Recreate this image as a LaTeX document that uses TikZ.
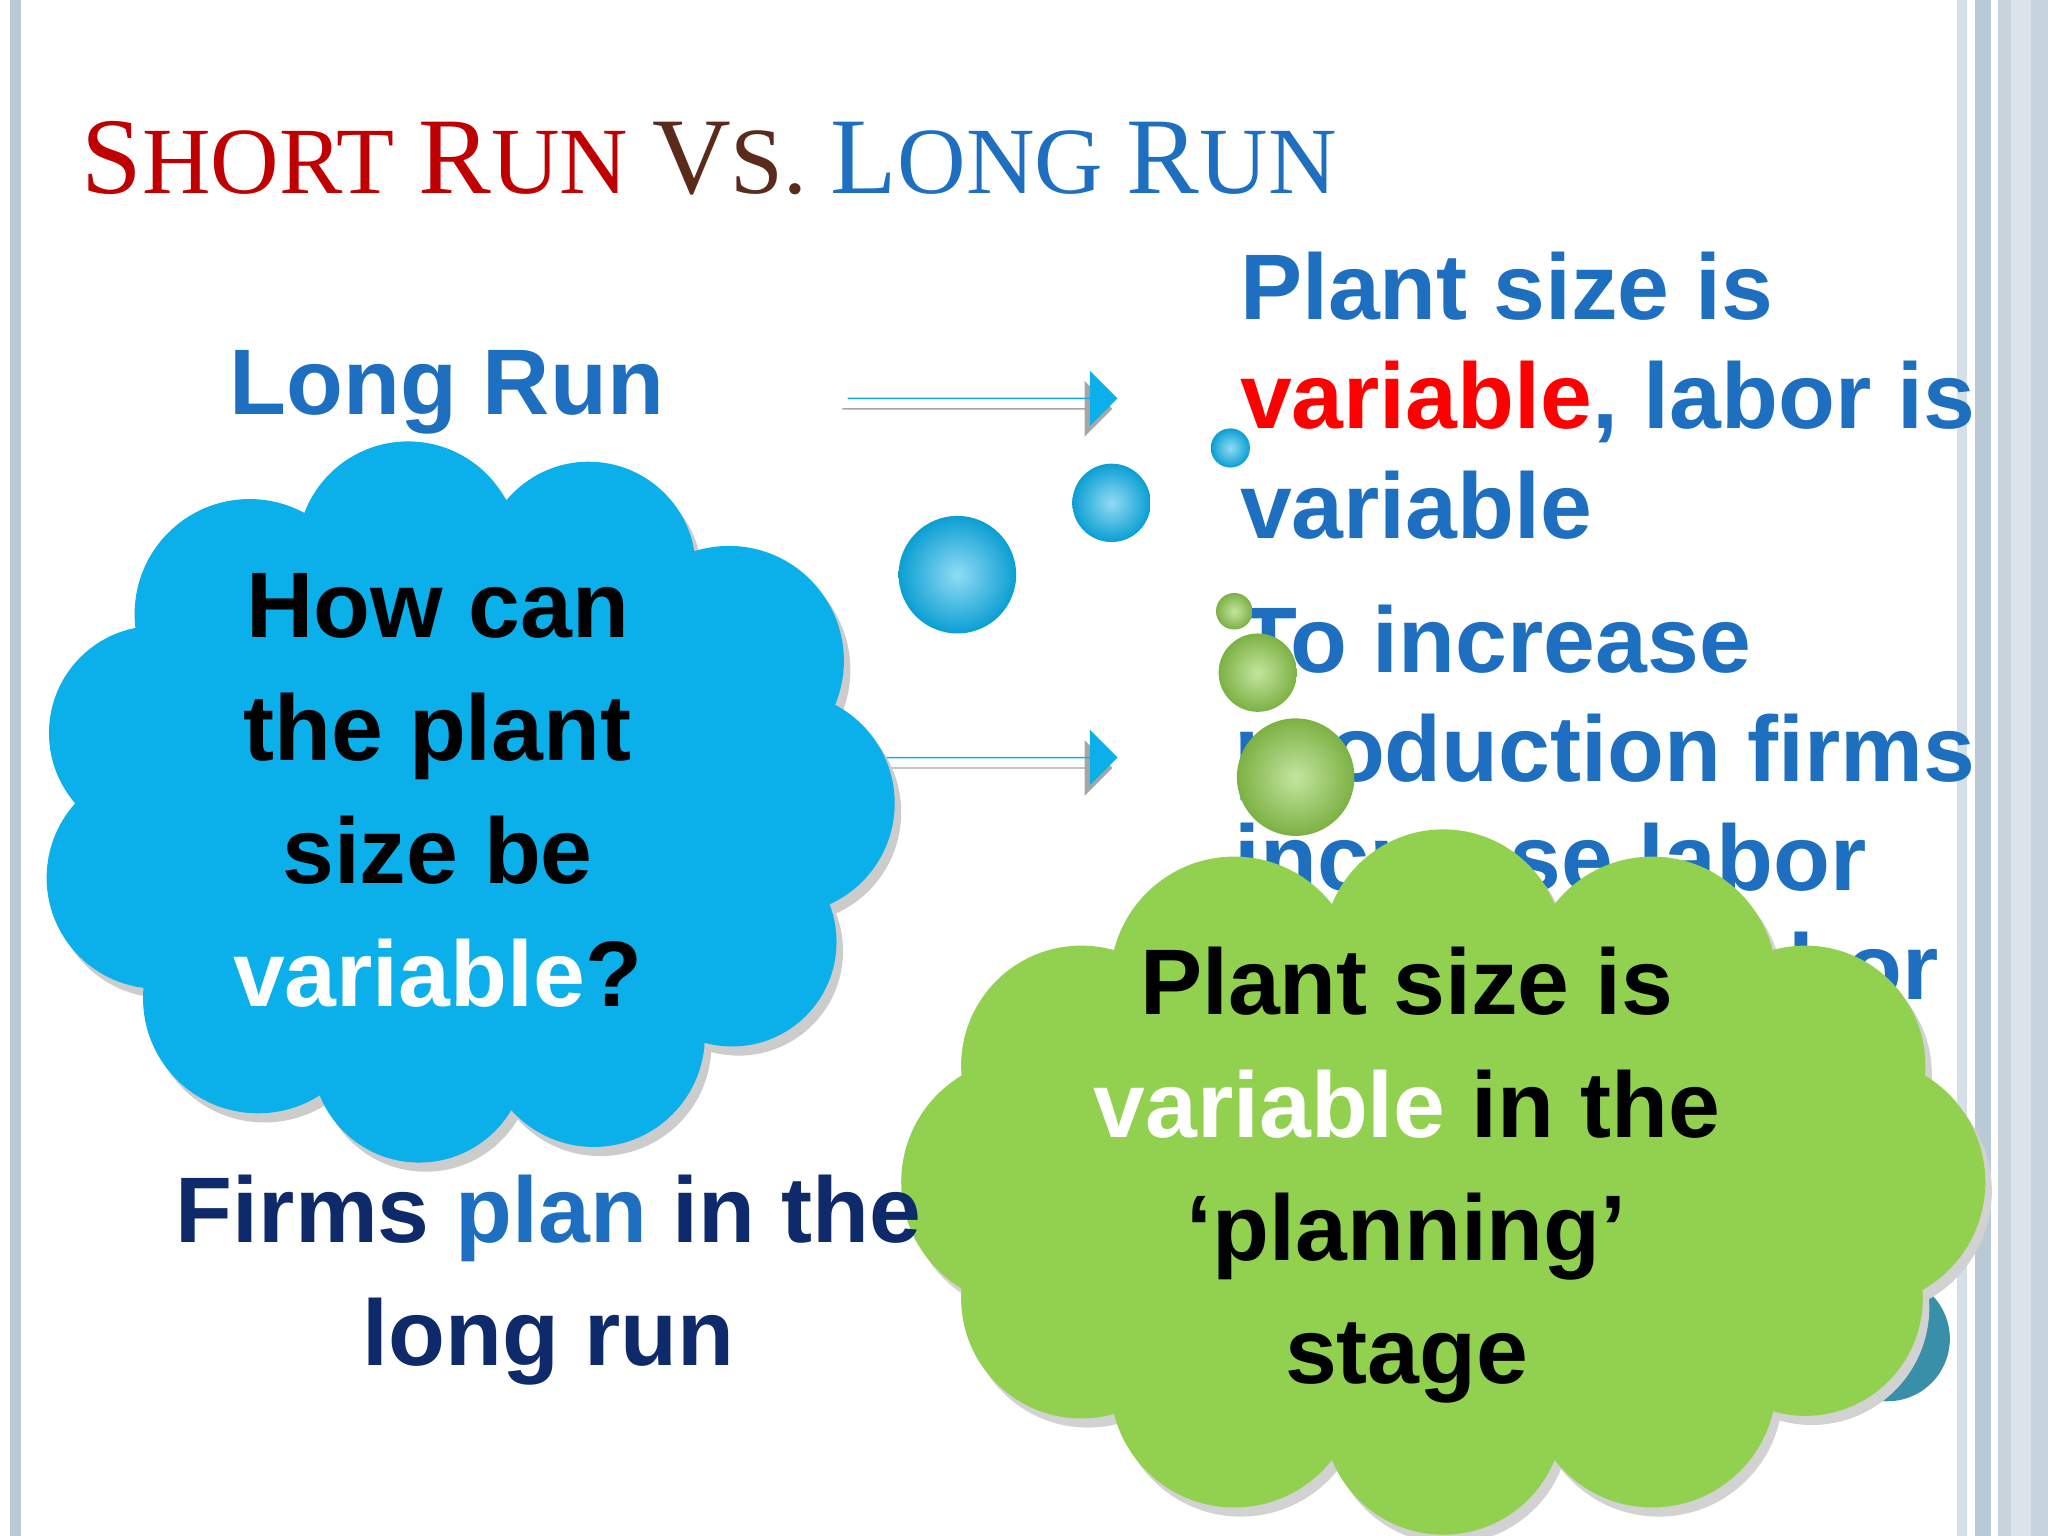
\documentclass[tikz,border=0pt]{standalone}
\usepackage{fontspec}
\setmainfont{Liberation Sans}
\newfontfamily\serif{Liberation Serif}
\usetikzlibrary{shapes.arrows,calc}
\definecolor{tblue}{HTML}{1F6FC0}
\definecolor{tred}{HTML}{C00000}
\definecolor{tbrown}{HTML}{5A2A1A}
\definecolor{cblue}{HTML}{0BB0EA}
\definecolor{cgreen}{HTML}{92D050}
\definecolor{navy}{HTML}{0F2A6A}
\definecolor{teal}{HTML}{3A8FA8}
\definecolor{barc}{HTML}{B9C9D6}
\tikzset{
 body/.style={font=\fontsize{26.5}{29}\selectfont\bfseries, align=center},
 rtext/.style={font=\fontsize{26.5}{29}\selectfont\bfseries, text=tblue, anchor=base west},
 barrow/.style={single arrow, fill=cblue, minimum height=2.7cm, minimum width=0.55cm, single arrow head extend=0.27cm, inner sep=0pt, single arrow tip angle=90},
 bball/.style={inner color=cblue!45!white, outer color=cblue!90!black},
 gball/.style={inner color=cgreen!55!white, outer color=cgreen!85!black},
}
\newcommand{\bigS}[1]{{\fontsize{31}{33}\selectfont #1}}
\newcommand{\smS}[1]{{\fontsize{27}{29}\selectfont #1}}
\begin{document}
\begin{tikzpicture}[x=0.013061cm,y=-0.013061cm]
\useasboundingbox (0,0) rectangle (1568,1176);
\fill[white] (0,0) rectangle (1568,1176);
% side bars
\fill[barc] (8,0) rectangle (16,1176);
\fill[barc!60] (1498,0) rectangle (1506,1176);
\fill[barc] (1512,0) rectangle (1524,1176);
\fill[barc!80] (1530,0) rectangle (1568,1176);
\fill[barc!50!white] (1540,0) rectangle (1555,1176);
% title
\node[anchor=base west, inner sep=0] (title) at (62,148) {\serif{\color{tred}\bigS{S}\smS{HORT}\smS{ }\bigS{R}\smS{UN}}\smS{ }{\color{tbrown}\bigS{V}\smS{S.}}\smS{ }{\color{tblue}\bigS{L}\smS{ONG}\smS{ }\bigS{R}\smS{UN}}};
% Long Run
\node[body, text=tblue] (lr) at (342,300) {Long Run};
% arrows
\node[barrow, fill=gray!70] (a1s) at (748,313) {};
\node[barrow] (a1) at (752,305) {};
\node[barrow, fill=gray!70] (a2s) at (748,588) {};
\node[barrow] (a2) at (752,580) {};
% right texts
\node[rtext] (t1) at (940,245) {Plant size is};
\node[rtext] (t2) at (940,328) {{\color{red}variable}, labor is};
\node[rtext] (t3) at (940,412) {variable};
\node[rtext] (t4) at (940,515) {To increase};
\node[rtext] (t5) at (936,598) {production firms};
\node[rtext] (t6) at (936,682) {increase labor};
\node[rtext, anchor=base east] (t7) at (1494,765) {labor};
% teal circle
\node[circle, fill=teal, minimum size=1.25cm] (tc) at (1445,1025) {};
% blue bubbles
\shade[bball] (733,440) circle (45);
\shade[bball] (851,385) circle (30);
\shade[bball] (942,343) circle (15);
% blue cloud
\fill[gray!50] (360,620) ellipse (250 and 210);
\foreach \a/\r in {0/85,33/80,66/85,98/82,130/88,163/85,196/82,228/88,260/85,293/82,326/88}
  \fill[gray!40] ($(360,622)+(\a:245 and 195)$) circle (\r);
\fill[cblue] (355,615) ellipse (250 and 210);
\foreach \a/\r in {0/85,33/80,66/85,98/82,130/88,163/85,196/82,228/88,260/85,293/82,326/88}
  \fill[cblue] ($(355,615)+(\a:245 and 195)$) circle (\r);
\node[body] (q) at (335,605) {How can\\[6pt] the plant\\[6pt] size be\\[6pt] {\color{white}variable}?};
% green bubbles
\shade[gball] (945,468) circle (14);
\shade[gball] (963,515) circle (30);
\shade[gball] (992,595) circle (45);
% green cloud
\fill[gray!40] (1110,912) ellipse (320 and 200);
\foreach \a/\r in {0/95,30/90,60/95,90/92,120/95,150/92,180/95,210/92,240/95,270/92,300/95,330/92}
  \fill[gray!35] ($(1110,912)+(\a:320 and 178)$) circle (\r);
\fill[cgreen] (1105,905) ellipse (320 and 200);
\foreach \a/\r in {0/95,30/90,60/95,90/92,120/95,150/92,180/95,210/92,240/95,270/92,300/95,330/92}
  \fill[cgreen] ($(1105,905)+(\a:320 and 178)$) circle (\r);
\node[body] (g) at (1077,900) {Plant size is\\[6pt] {\color{white}variable} in the\\[6pt] ‘planning’\\[6pt] stage};
% bottom text
\node[body, text=navy] (fp) at (420,980) {Firms {\color{tblue}plan} in the\\[6pt] long run};
\end{tikzpicture}
\end{document}
